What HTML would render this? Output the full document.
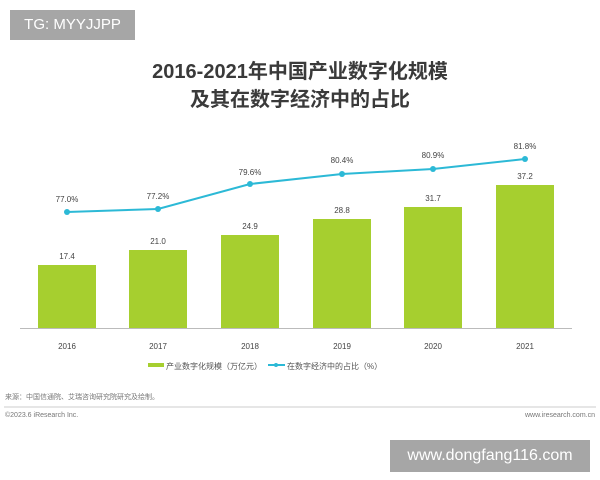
<!DOCTYPE html><html><head><meta charset="utf-8"><style>
body{margin:0;width:600px;height:480px;background:#fff;position:relative;overflow:hidden;font-family:"Liberation Sans","Noto Sans CJK SC",sans-serif}
.a{position:absolute}
</style></head><body>
<div class="a" style="left:10px;top:10px;width:125px;height:30px;background:#a6a6a6;color:#fff;font-size:15px;line-height:30px;text-align:center">TG: MYYJJPP</div>
<div class="a" style="left:0;top:58px;width:600px;text-align:center;font-weight:bold;font-size:20px;line-height:28px;color:#3a3a3a">2016-2021年中国产业数字化规模<br>及其在数字经济中的占比</div>
<svg class="a" style="left:0;top:0" width="600" height="480" font-family="Liberation Sans, Noto Sans CJK SC, sans-serif">
<g fill="#a6cf2f">
<rect x="38" y="265" width="58" height="63"/><rect x="129" y="250" width="58" height="78"/><rect x="221" y="235" width="58" height="93"/><rect x="313" y="219" width="58" height="109"/><rect x="404" y="207" width="58" height="121"/><rect x="496" y="185" width="58" height="143"/></g>
<line x1="20" y1="328.5" x2="572" y2="328.5" stroke="#bbb"/>
<g font-size="8" fill="#444" text-anchor="middle">
<text x="67" y="259">17.4</text><text x="158" y="244">21.0</text><text x="250" y="229">24.9</text><text x="342" y="213">28.8</text><text x="433" y="201">31.7</text><text x="525" y="179">37.2</text>
<text x="67" y="349">2016</text><text x="158" y="349">2017</text><text x="250" y="349">2018</text><text x="342" y="349">2019</text><text x="433" y="349">2020</text><text x="525" y="349">2021</text>
<text x="67" y="202">77.0%</text><text x="158" y="199">77.2%</text><text x="250" y="175">79.6%</text><text x="342" y="163">80.4%</text><text x="433" y="158">80.9%</text><text x="525" y="149">81.8%</text>
</g>
<polyline points="67,212 158,209 250,184 342,174 433,169 525,159" fill="none" stroke="#2cb9d6" stroke-width="2"/>
<g fill="#2cb9d6"><circle cx="67" cy="212" r="3"/><circle cx="158" cy="209" r="3"/><circle cx="250" cy="184" r="3"/><circle cx="342" cy="174" r="3"/><circle cx="433" cy="169" r="3"/><circle cx="525" cy="159" r="3"/></g>
<rect x="148" y="363" width="16" height="4" fill="#a6cf2f"/>
<text x="166" y="369" font-size="8" fill="#555">产业数字化规模（万亿元）</text>
<line x1="268" y1="365" x2="285" y2="365" stroke="#2cb9d6" stroke-width="2"/><circle cx="276" cy="365" r="2" fill="#2cb9d6"/>
<text x="287" y="369" font-size="8" fill="#555">在数字经济中的占比（%）</text>
<text x="5" y="399" font-size="7" fill="#777">来源：中国信通院、艾瑞咨询研究院研究及绘制。</text>
<line x1="4" y1="407" x2="596" y2="407" stroke="#ccc"/>
<text x="5" y="417" font-size="7" fill="#777">©2023.6 iResearch Inc.</text>
<text x="595" y="417" font-size="7" fill="#777" text-anchor="end">www.iresearch.com.cn</text>
</svg>
<div class="a" style="left:390px;top:440px;width:200px;height:32px;background:#a6a6a6;color:#fff;font-size:16px;line-height:32px;text-align:center">www.dongfang116.com</div>
</body></html>
